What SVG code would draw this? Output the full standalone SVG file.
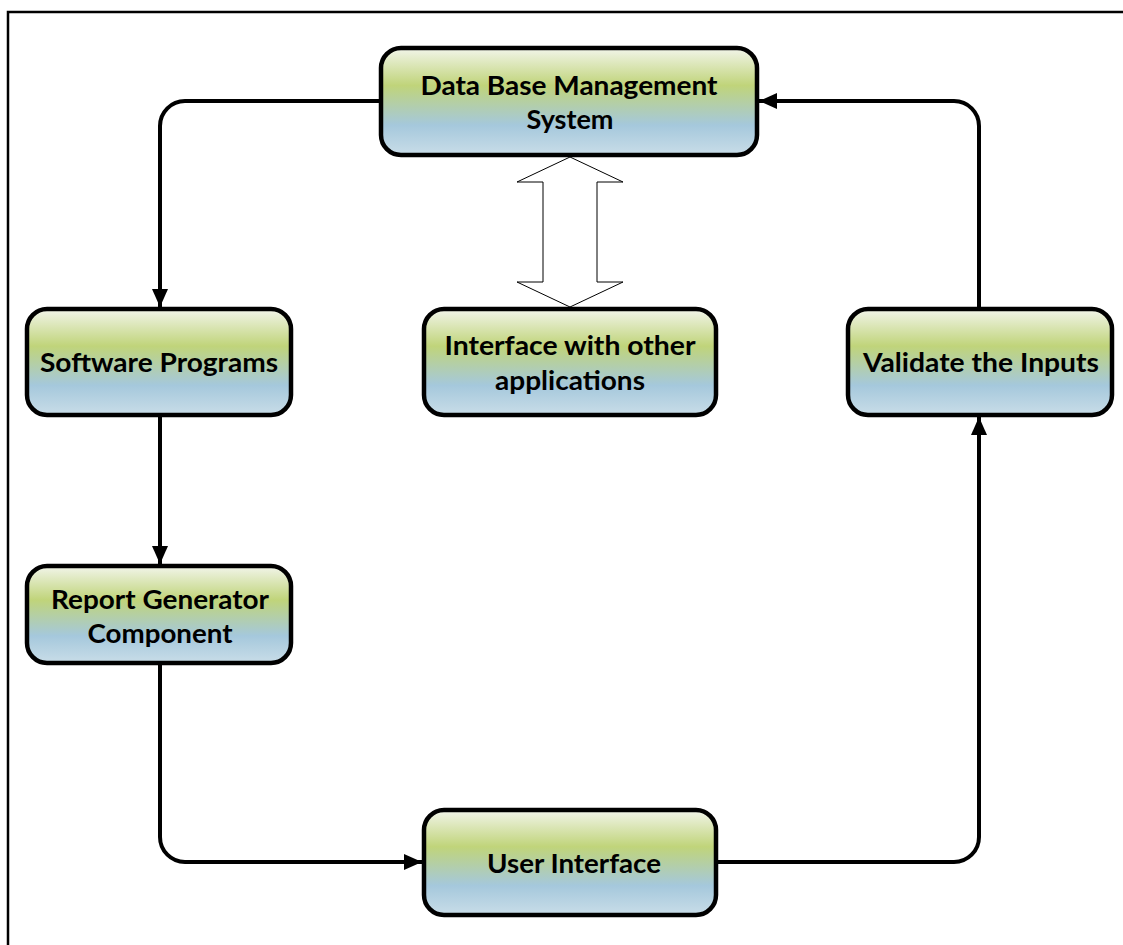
<svg xmlns="http://www.w3.org/2000/svg" width="1123" height="945" viewBox="0 0 1123 945">
<defs>
<linearGradient id="g" x1="0" y1="0" x2="0" y2="1">
<stop offset="0" stop-color="#f2f5ea"/>
<stop offset="0.35" stop-color="#c0d47a"/>
<stop offset="0.72" stop-color="#a5c8dc"/>
<stop offset="1" stop-color="#c9dde8"/>
</linearGradient>
<marker id="ah" markerWidth="18" markerHeight="16" refX="18" refY="8" orient="auto" markerUnits="userSpaceOnUse">
<path d="M0,0 L18,8 L0,16 Z" fill="#000"/>
</marker>
<style>
.box{fill:url(#g);stroke:#000;stroke-width:4.5}
.t{font-family:Lato,"Open Sans","Liberation Sans",sans-serif;font-weight:bold;font-size:27px;fill:#000;text-anchor:middle}
.c{fill:none;stroke:#000;stroke-width:4}
</style>
</defs>
<rect x="0" y="0" width="1123" height="945" fill="#fff"/>
<rect x="8" y="12" width="1140" height="960" fill="none" stroke="#000" stroke-width="2.5"/>
<g id="connectors">
<path class="c" d="M381,101 H185 A25,25 0 0 0 160,126 V307" marker-end="url(#ah)"/>
<path class="c" d="M160,415 V564" marker-end="url(#ah)"/>
<path class="c" d="M160,663 V837 A25,25 0 0 0 185,862 H422" marker-end="url(#ah)"/>
<path class="c" d="M716,862 H954 A25,25 0 0 0 979,837 V417" marker-end="url(#ah)"/>
<path class="c" d="M979,309 V126 A25,25 0 0 0 954,101 H759" marker-end="url(#ah)"/>
<path d="M570,157 L623,182 L597,182 L597,282 L623,282 L570,307 L517,282 L543,282 L543,182 L517,182 Z" fill="#fff" stroke="#000" stroke-width="1"/>
</g>
<g id="dbms">
<rect class="box" x="381" y="48" width="376" height="107" rx="20"/>
<text class="t" x="569" y="95" textLength="297" lengthAdjust="spacingAndGlyphs">Data Base Management</text>
<text class="t" x="570" y="129" textLength="87" lengthAdjust="spacingAndGlyphs">System</text>
</g>
<g id="software">
<rect class="box" x="27" y="309" width="264" height="106" rx="20"/>
<text class="t" x="159" y="372" textLength="238" lengthAdjust="spacingAndGlyphs">Software Programs</text>
</g>
<g id="interface">
<rect class="box" x="424" y="309" width="292" height="106" rx="20"/>
<text class="t" x="570" y="355" textLength="251" lengthAdjust="spacingAndGlyphs">Interface with other</text>
<text class="t" x="570" y="390" textLength="150" lengthAdjust="spacingAndGlyphs">applications</text>
</g>
<g id="validate">
<rect class="box" x="848" y="309" width="264" height="106" rx="20"/>
<text class="t" x="981" y="372" textLength="236" lengthAdjust="spacingAndGlyphs">Validate the Inputs</text>
</g>
<g id="report">
<rect class="box" x="27" y="566" width="264" height="97" rx="20"/>
<text class="t" x="160" y="609" textLength="218" lengthAdjust="spacingAndGlyphs">Report Generator</text>
<text class="t" x="160" y="643" textLength="145" lengthAdjust="spacingAndGlyphs">Component</text>
</g>
<g id="user">
<rect class="box" x="424" y="810" width="292" height="105" rx="20"/>
<text class="t" x="574" y="873" textLength="174" lengthAdjust="spacingAndGlyphs">User Interface</text>
</g>
</svg>
